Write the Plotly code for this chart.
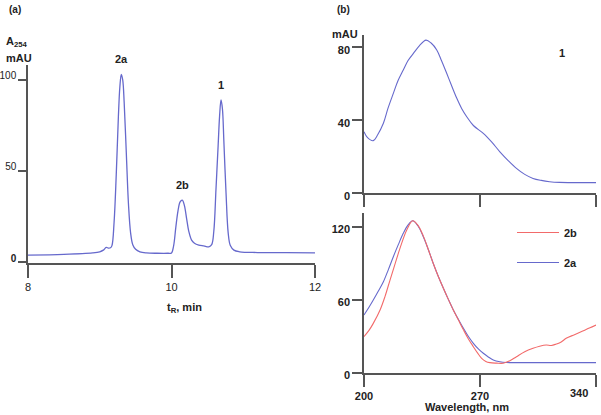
import plotly.graph_objects as go

# ---------------- Data ----------------
# (a) HPLC chromatogram, A254 (mAU) vs retention time (min)
t_min = [8.0, 8.5, 8.9, 9.0, 9.05, 9.09, 9.12, 9.15, 9.17, 9.20, 9.23, 9.26, 9.28, 9.30, 9.32,
         9.34, 9.37, 9.40, 9.43, 9.46, 9.50, 9.56, 9.65, 9.8, 9.95, 10.0, 10.03, 10.06, 10.09,
         10.12, 10.15, 10.18, 10.21, 10.24, 10.28, 10.32, 10.38, 10.45, 10.52, 10.56, 10.59,
         10.62, 10.65, 10.67, 10.69, 10.71, 10.73, 10.76, 10.79, 10.82, 10.87, 10.95, 11.2, 11.6, 12.0]
a254 = [3.8, 4.2, 5.0, 5.6, 6.5, 8.0, 7.6, 7.8, 9.0, 22, 48, 80, 96, 103, 100,
        88, 60, 32, 16, 9.5, 7.0, 5.6, 5.0, 4.8, 4.8, 5.0, 9, 19, 28,
        33, 34, 31, 24, 17, 12, 10.3, 9.3, 8.8, 8.3, 9.5, 17,
        40, 64, 80, 89, 84, 66, 38, 16, 9, 6.5, 5.6, 5.2, 5.1, 5.0]
peak_labels = ["2a", "2b", "1"]
peak_t = [9.30, 10.15, 10.69]
peak_h = [103, 34, 89]

# (b) UV spectra, mAU vs wavelength (nm)
wl_1 = [200, 202, 205.6, 208, 211.7, 214.5, 217.7, 220.5, 223.7, 226.5, 229.8, 233.5, 237.4,
        240.5, 243.9, 246.8, 249.9, 253, 256, 259, 262, 266, 272, 277, 282, 287, 292,
        297, 302, 307, 312, 318, 324, 332, 340]
abs_1 = [33.6, 30.5, 28.7, 31.5, 38.2, 46.5, 54.6, 61.5, 67.4, 72.5, 76.5, 80.8, 83.8,
         82.2, 78.4, 72.5, 65.6, 58.5, 51.9, 46.2, 41.8, 37.0, 32.7, 28.0, 22.6, 17.8, 13.5,
         10.2, 8.0, 6.9, 6.2, 5.8, 5.7, 5.7, 5.7]

wl_2a = [200, 203, 205.6, 208.5, 211.7, 214.7, 217.7, 220.7, 223.7, 226.5, 229.4, 232.5,
         235.8, 238.8, 241.8, 244.8, 247.9, 250.9, 253.9, 257, 260, 263, 266, 269, 272,
         275, 278, 282, 286, 292, 302, 320, 340]
abs_2a = [47.7, 54, 60, 67, 75, 85, 95.6, 105.5, 114.8, 121.5, 125.1, 121,
          112, 101.5, 90, 79.5, 69.6, 60.5, 51.8, 44, 36.7, 30, 24.4, 19.8, 16.2,
          13.2, 10.7, 9.2, 8.6, 8.5, 8.5, 8.5, 8.5]

wl_2b = [200, 203, 205.6, 209.7, 212.7, 215.7, 218.7, 221.7, 225.8, 229.4, 232.5,
         235.8, 238.8, 241.8, 244.8, 247.9, 250.9, 253.9, 257, 260, 263, 266, 268.5, 271,
         273.5, 276, 280, 284, 288, 292, 297, 302, 306, 310, 313, 316, 319, 322, 327, 332, 336, 340]
abs_2b = [29.9, 35, 40.8, 51.8, 63, 76.4, 89.5, 102.4, 117.5, 125.1, 121.5,
          112.5, 101.5, 90, 79.5, 69.6, 60.5, 51.8, 43.5, 35.5, 28, 21.6, 16.5, 12,
          9.5, 8.5, 8.1, 8.0, 10.0, 13.4, 17.5, 20.3, 22.0, 23.0, 22.6, 23.8, 25.5, 28.5, 31.5, 34.5, 37.0, 39.4]

legend_names = ["2b", "2a"]

# ---------------- Styling ----------------
W, H = 601, 415
FONT = "Liberation Sans, Arial, sans-serif"
AX = "#555555"
BLUE = "#6669cc"
RED = "#f26a6a"


def px_x(p):
    return p / W


def px_y(p):
    return 1 - p / H


fig = go.Figure()

fig.add_trace(go.Scatter(x=t_min, y=a254, mode="lines", line=dict(color=BLUE, width=1.3),
                         xaxis="x", yaxis="y", showlegend=False, line_shape="spline"))
fig.add_trace(go.Scatter(x=wl_1, y=abs_1, mode="lines", line=dict(color=BLUE, width=1.1),
                         xaxis="x2", yaxis="y2", showlegend=False, line_shape="spline"))
fig.add_trace(go.Scatter(x=wl_2a, y=abs_2a, mode="lines", line=dict(color=BLUE, width=1.1),
                         xaxis="x3", yaxis="y3", name=legend_names[1], legendrank=2,
                         legendgroup="g2", line_shape="spline"))
fig.add_trace(go.Scatter(x=wl_2b, y=abs_2b, mode="lines", line=dict(color=RED, width=1.1),
                         xaxis="x3", yaxis="y3", name=legend_names[0], legendrank=1,
                         legendgroup="g1", line_shape="spline"))

common = dict(showgrid=False, zeroline=False, showline=True, linecolor=AX, linewidth=1.5,
              ticks="outside", tickcolor=AX, tickwidth=1.5, ticklen=10, automargin=False,
              tickfont=dict(family=FONT, size=11, color="#222222"))

# pixel-based layout
ya_bot, ya_top = 263, 65
yb1_bot, yb1_top = 193, 35
yb2_bot, yb2_top = 373, 213

fig.update_layout(
    width=W, height=H, margin=dict(l=0, r=0, t=0, b=0, autoexpand=False),
    paper_bgcolor="white", plot_bgcolor="white",
    font=dict(family=FONT, size=11, color="#222222"),
    xaxis=dict(common, domain=[px_x(28), px_x(315)], range=[8, 12], anchor="y",
               tickvals=[8, 10, 12], ticklen=13),
    yaxis=dict(common, domain=[px_y(ya_bot), px_y(ya_top)], range=[-0.55, 108.2], anchor="x",
               tickvals=[0, 50, 100], ticktext=["<b>0</b>", "50", "100"], ticklen=8,
               ticklabelstandoff=0, ticklabelshift=-4,
               tickfont=dict(family=FONT, size=10, color="#222222")),
    xaxis2=dict(common, domain=[px_x(364), px_x(596)], range=[200, 340], anchor="y2",
                tickvals=[200, 270, 340], showticklabels=False, ticklen=12),
    yaxis2=dict(common, domain=[px_y(yb1_bot), px_y(yb1_top)], range=[0, 86.6], anchor="x2",
                tickvals=[0, 40, 80], ticktext=["<b>0</b>", "<b>40</b>", "<b>80</b>"],
                ticklabelshift=3),
    xaxis3=dict(common, domain=[px_x(364), px_x(596)], range=[200, 340], anchor="y3",
                tickvals=[200, 270, 340], ticktext=["<b>200</b>", "<b>270</b>", ""], ticklen=12),
    yaxis3=dict(common, domain=[px_y(yb2_bot), px_y(yb2_top)], range=[0, 131.5], anchor="x3",
                tickvals=[0, 60, 120], ticktext=["<b>0</b>", "<b>60</b>", "<b>120</b>"],
                ticklabelshift=2),
    legend=dict(x=px_x(512), y=px_y(218), xanchor="left", yanchor="top",
                font=dict(family=FONT, size=11, color="#222222", weight="bold"),
                bgcolor="rgba(0,0,0,0)", itemwidth=42, tracegroupgap=11),
    showlegend=True,
)

ann = []
bold = dict(family=FONT, size=11, color="#222222")
for lab, tx, hy in zip(peak_labels, peak_t, peak_h):
    ann.append(dict(x=tx, y=hy, xref="x", yref="y", text=f"<b>{lab}</b>", showarrow=False,
                    yanchor="bottom", yshift=7, font=bold))


def pap(x, y, text, xanchor="center", size=11):
    return dict(x=px_x(x), y=px_y(y), xref="paper", yref="paper", text=text, showarrow=False,
                xanchor=xanchor, yanchor="middle",
                font=dict(family=FONT, size=size, color="#222222"))


ann += [
    pap(7, 10, "<b>(a)</b>", "left", 10),
    pap(335, 9, "<b>(b)</b>", "left", 10),
    pap(4, 42, "<b>A<sub>254</sub></b>", "left"),
    pap(4, 58, "<b>mAU</b>", "left"),
    pap(184, 308, "<b>t<sub>R</sub>, min</b>"),
    pap(330, 34, "<b>mAU</b>", "left"),
    pap(467, 407, "<b>Wavelength, nm</b>"),
    dict(x=319.5, y=76.7, xref="x2", yref="y2", text="<b>1</b>", showarrow=False, font=bold),
    dict(x=340, y=0, xref="x3", yref="y3", text="<b>340</b>", showarrow=False,
         xanchor="right", yanchor="top", xshift=-6, yshift=-12, font=bold),
]
fig.update_layout(annotations=ann)

fig.write_html("out.html", config={"displayModeBar": False},
               post_script="document.body.style.margin='0px';")
